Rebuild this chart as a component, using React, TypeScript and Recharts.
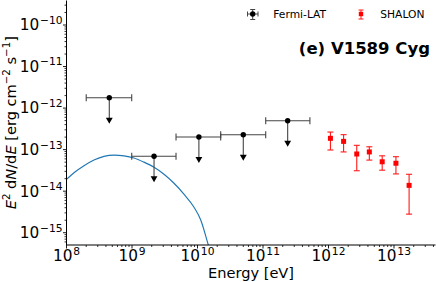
import React from 'react';
import { ComposedChart, Scatter, Line, XAxis, YAxis, ErrorBar } from 'recharts';

// Axis ranges and ticks
const X_DOMAIN = [1e8, 4.3e13];
const Y_DOMAIN = [5.06e-16, 3.89e-10];
const X_MAJOR = [1e8, 1e9, 1e10, 1e11, 1e12, 1e13];
const X_EXP = ['8', '9', '10', '11', '12', '13'];
const Y_MAJOR = [1e-16, 1e-15, 1e-14, 1e-13, 1e-12, 1e-11, 1e-10];
const Y_EXP = ['\u221216', '\u221215', '\u221214', '\u221213', '\u221212', '\u221211', '\u221210'];
const MINOR_MULT = [2, 3, 4, 5, 6, 7, 8, 9];

// Fermi-LAT upper limits
const fermiE = [4.5e8, 2.17e9, 1.05e10, 5.0e10, 2.38e11];
const fermiELow = [2.0e8, 9.9e8, 4.7e9, 2.26e10, 1.1e11];
const fermiEHigh = [9.9e8, 4.7e9, 2.26e10, 1.1e11, 5.2e11];
const fermiUL = [1.78e-12, 6.9e-14, 2.01e-13, 2.29e-13, 4.97e-13];

// SHALON measurements
const shalonE = [1.07e12, 1.7e12, 2.7e12, 4.2e12, 6.6e12, 1.07e13, 1.7e13];
const shalonF = [1.87e-13, 1.58e-13, 7.85e-14, 8.8e-14, 5.1e-14, 4.7e-14, 1.38e-14];
const shalonHi = [2.65e-13, 2.29e-13, 1.27e-13, 1.17e-13, 7.1e-14, 6.76e-14, 2.55e-14];
const shalonLo = [9.8e-14, 8.8e-14, 3.1e-14, 5.6e-14, 3.2e-14, 2.6e-14, 2.8e-15];

// Model curve
const modelE = [1e8, 1.3e8, 1.85e8, 2.63e8, 3.74e8, 5.3e8, 7.55e8, 1.07e9, 1.52e9, 2.17e9, 3.08e9, 4.38e9, 6.2e9, 8.85e9, 1.12e10, 1.45e10, 1.6e10];
const modelF = [1.93e-14, 2.78e-14, 4.1e-14, 5.6e-14, 6.9e-14, 7.4e-14, 7.1e-14, 6.3e-14, 5.0e-14, 3.75e-14, 2.55e-14, 1.55e-14, 8.5e-15, 4.1e-15, 2.02e-15, 5.3e-16, 3.1e-16];

const FONT = 'DejaVu Sans';
const TICK_FS = 15.3;
const SUP_FS = 10.7;

const xMinor = X_MAJOR.flatMap((m) => MINOR_MULT.map((k) => k * m)).filter((v) => v > X_DOMAIN[0] && v < X_DOMAIN[1]);
const yMinor = Y_MAJOR.flatMap((m) => MINOR_MULT.map((k) => k * m)).filter((v) => v > Y_DOMAIN[0] && v < Y_DOMAIN[1]);
const X_TICKS = [...X_MAJOR, ...xMinor];
const yMajorIn = Y_MAJOR.filter((v) => v > Y_DOMAIN[0] && v < Y_DOMAIN[1]);
const Y_TICKS = [...yMajorIn, ...yMinor];

const fermiData = fermiE.map((x, i) => ({
  x,
  y: fermiUL[i],
  xErr: [x - fermiELow[i], fermiEHigh[i] - x],
}));
const shalonData = shalonE.map((x, i) => ({
  x,
  y: shalonF[i],
  yErr: [shalonF[i] - shalonLo[i], shalonHi[i] - shalonF[i]],
}));
const modelData = modelE.map((x, i) => ({ x, y: modelF[i] }));

const XTick = (props: any) => {
  const { x, y, payload } = props;
  const i = X_MAJOR.indexOf(payload.value);
  if (i < 0) {
    return <line x1={x} y1={y} x2={x} y2={y + 2} stroke="#000" strokeWidth={0.8} />;
  }
  return (
    <g>
      <line x1={x} y1={y} x2={x} y2={y + 3.5} stroke="#000" strokeWidth={0.9} />
      <text x={x} y={y + 15.7} textAnchor="middle" fontSize={TICK_FS} fontFamily={FONT} fill="#000">
        10<tspan dx={0.8} dy={-6} fontSize={SUP_FS}>{X_EXP[i]}</tspan>
      </text>
    </g>
  );
};

const YTick = (props: any) => {
  const { x, y, payload } = props;
  const i = Y_MAJOR.indexOf(payload.value);
  if (i < 0) {
    return <line x1={x} y1={y} x2={x - 2} y2={y} stroke="#000" strokeWidth={0.8} />;
  }
  return (
    <g>
      <line x1={x} y1={y} x2={x - 3.5} y2={y} stroke="#000" strokeWidth={0.9} />
      <text x={x - 4} y={y + 5.4} textAnchor="end" fontSize={TICK_FS} fontFamily={FONT} fill="#000">
        10<tspan dx={0.8} dy={-6.5} fontSize={SUP_FS}>{Y_EXP[i]}</tspan>
      </text>
    </g>
  );
};

const UpperLimit = (props: any) => {
  const { cx, cy } = props;
  return (
    <g>
      <line x1={cx} y1={cy} x2={cx} y2={cy + 21} stroke="#444" strokeWidth={1.1} />
      <path d={`M${cx - 3.4},${cy + 20} L${cx + 3.4},${cy + 20} L${cx},${cy + 26} Z`} fill="#000" />
      <circle cx={cx} cy={cy} r={2.7} fill="#000" />
    </g>
  );
};

const RedSquare = (props: any) => {
  const { cx, cy } = props;
  return <rect x={cx - 2.5} y={cy - 2.5} width={5} height={5} fill="#ff0000" />;
};

export default function App() {
  return (
    <div style={{ position: 'absolute', left: 0, top: 0, width: 436, height: 282, background: '#fff' }}>
      <ComposedChart width={436} height={282} margin={{ top: 0.5, right: 0.5, bottom: 0, left: 0 }}>
        <XAxis
          xAxisId="b"
          dataKey="x"
          type="number"
          scale="log"
          domain={X_DOMAIN}
          allowDataOverflow
          ticks={X_TICKS}
          interval={0}
          tick={<XTick />}
          tickLine={false}
          tickSize={0}
          tickMargin={0}
          height={37}
          axisLine={{ stroke: '#000', strokeWidth: 1 }}
        />
        <XAxis
          xAxisId="t"
          orientation="top"
          dataKey="x"
          type="number"
          scale="log"
          domain={X_DOMAIN}
          allowDataOverflow
          height={0}
          tick={false}
          tickLine={false}
          axisLine={{ stroke: '#000', strokeWidth: 1 }}
        />
        <YAxis
          yAxisId="l"
          type="number"
          scale="log"
          domain={Y_DOMAIN}
          allowDataOverflow
          ticks={Y_TICKS}
          interval={0}
          tick={<YTick />}
          tickLine={false}
          tickSize={0}
          tickMargin={0}
          width={66.5}
          axisLine={{ stroke: '#000', strokeWidth: 1 }}
        />
        <YAxis
          yAxisId="r"
          orientation="right"
          type="number"
          scale="log"
          domain={Y_DOMAIN}
          allowDataOverflow
          width={0}
          tick={false}
          tickLine={false}
          axisLine={{ stroke: '#000', strokeWidth: 1 }}
        />
        <Line
          xAxisId="b"
          yAxisId="l"
          data={modelData}
          dataKey="y"
          type="monotone"
          stroke="#1f77b4"
          strokeWidth={1.15}
          dot={false}
          isAnimationActive={false}
        />
        <Scatter
          xAxisId="b"
          yAxisId="l"
          data={fermiData}
          dataKey="y"
          shape={<UpperLimit />}
          isAnimationActive={false}
        >
          <ErrorBar dataKey="xErr" direction="x" width={3.5} stroke="#444" strokeWidth={1.1} isAnimationActive={false} />
        </Scatter>
        <Scatter
          xAxisId="b"
          yAxisId="l"
          data={shalonData}
          dataKey="y"
          shape={<RedSquare />}
          isAnimationActive={false}
        >
          <ErrorBar dataKey="yErr" direction="y" width={3} stroke="#ff1a1a" strokeWidth={1.1} isAnimationActive={false} />
        </Scatter>
      </ComposedChart>
      <svg
        width={436}
        height={282}
        style={{ position: 'absolute', left: 0, top: 0, pointerEvents: 'none' }}
        fontFamily={FONT}
      >
        <text x={251} y={278.3} textAnchor="middle" fontSize={14.6} fill="#000">Energy [eV]</text>
        <text transform="translate(15.5,122.75) rotate(-90)" textAnchor="middle" fontSize={14.6} fill="#000">
          <tspan fontStyle="italic">E</tspan>
          <tspan dy={-6} fontSize={10.2}>2</tspan>
          <tspan dy={6}> d</tspan>
          <tspan fontStyle="italic">N</tspan>
          <tspan>/d</tspan>
          <tspan fontStyle="italic">E</tspan>
          <tspan> [erg cm</tspan>
          <tspan dy={-6} fontSize={10.2}>{'\u22122'}</tspan>
          <tspan dy={6}> s</tspan>
          <tspan dy={-6} fontSize={10.2}>{'\u22121'}</tspan>
          <tspan dy={6}>]</tspan>
        </text>
        <text x={430} y={53.5} textAnchor="end" fontSize={16.5} fontWeight="bold" fill="#000">(e) V1589 Cyg</text>
        {/* Legend: Fermi-LAT */}
        <g stroke="#444" strokeWidth={1}>
          <line x1={247.5} y1={14} x2={258} y2={14} />
          <line x1={247.5} y1={11.5} x2={247.5} y2={16.5} />
          <line x1={258} y1={11.5} x2={258} y2={16.5} />
          <line x1={252.7} y1={9.5} x2={252.7} y2={19.5} />
          <line x1={250.2} y1={9.5} x2={255.2} y2={9.5} />
          <line x1={250.2} y1={19.5} x2={255.2} y2={19.5} />
        </g>
        <circle cx={252.7} cy={14} r={2.7} fill="#000" />
        <text x={273.3} y={18} fontSize={10.7} fill="#000">Fermi-LAT</text>
        {/* Legend: SHALON */}
        <g stroke="#ff1a1a" strokeWidth={1}>
          <line x1={361} y1={10} x2={361} y2={19} />
          <line x1={358.5} y1={10} x2={363.5} y2={10} />
          <line x1={358.5} y1={19} x2={363.5} y2={19} />
        </g>
        <rect x={358.8} y={11.8} width={4.4} height={4.4} fill="#ff0000" />
        <text x={380.3} y={18} fontSize={10.7} fill="#000">SHALON</text>
      </svg>
    </div>
  );
}
